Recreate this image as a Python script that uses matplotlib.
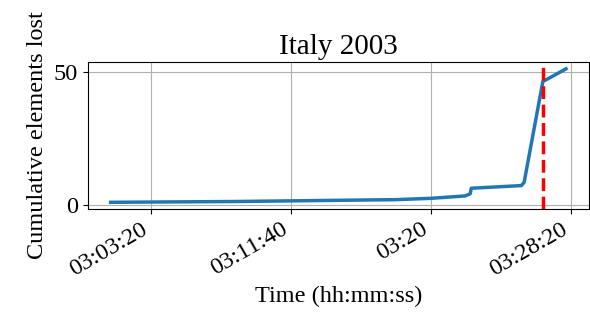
import matplotlib.pyplot as plt
from matplotlib.ticker import FuncFormatter, MultipleLocator

plt.rcParams['font.family'] = ['Liberation Serif', 'DejaVu Serif']
plt.rcParams['font.size'] = 17.5

# time in seconds after midnight, cumulative elements lost
times = [10854, 11300, 11873, 12000, 12122, 12140, 12144, 12323, 12333, 12400, 12483]
lost = [1, 1.3, 2, 2.5, 3.4, 4.2, 6.3, 7.3, 8.5, 46.5, 51.3]
blackout_time = 12400


def hms(x, pos=None):
    x = int(round(x))
    s = '%02d:%02d:%02d' % (x // 3600, (x % 3600) // 60, x % 60)
    if s.endswith(':00'):
        s = s[:-3]
    return s


fig, ax = plt.subplots(figsize=(5.9, 3.22), dpi=100)
fig.subplots_adjust(left=0.149, right=0.998, top=0.807, bottom=0.351)

ax.plot(times, lost, color='tab:blue', linewidth=2.5)
ax.axvline(blackout_time, color='red', linestyle='--', linewidth=2.5)

ax.xaxis.set_major_locator(MultipleLocator(500))
ax.xaxis.set_major_formatter(FuncFormatter(hms))
ax.yaxis.set_major_locator(MultipleLocator(50))
ax.grid(True)

for lbl in ax.get_xticklabels():
    lbl.set_rotation(30)
    lbl.set_ha('right')

ax.set_title('Italy 2003')
ax.set_xlabel('Time (hh:mm:ss)')
ax.set_ylabel('Cumulative elements lost')

fig.savefig('out.png', dpi=100)
